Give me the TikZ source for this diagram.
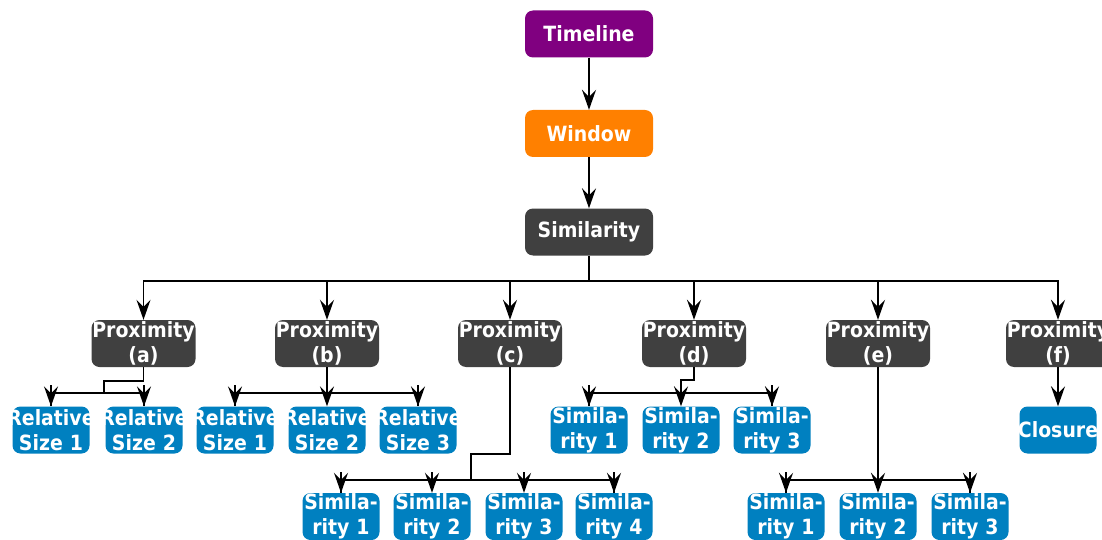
\documentclass[tikz,border=0pt]{standalone}
\usepackage{fontspec}
\setmainfont{DejaVu Sans Condensed}
\usetikzlibrary{arrows.meta}
\definecolor{tlpurple}{RGB}{128,0,128}
\definecolor{winorange}{RGB}{255,128,0}
\definecolor{darkbox}{RGB}{64,64,64}
\definecolor{leafblue}{RGB}{0,128,192}
% two centred lines that may run past the box edges
\newcommand{\twolines}[2]{\clap{#1}\\\clap{#2}}
\tikzset{
  box/.style={draw=none, rounded corners=8pt, text=white, inner sep=0pt,
    minimum height=47pt, text width=0pt, align=center,
    font=\fontsize{21}{25}\selectfont\bfseries},
  topbox/.style={box, minimum width=128pt},
  midbox/.style={box, fill=darkbox, minimum width=104pt},
  leaf/.style={box, fill=leafblue, minimum width=77pt},
  link/.style={draw=black, line width=1.8pt},
  arr/.style={link, -{Stealth[length=20pt,width=14pt,inset=7pt]}}
}
\begin{document}
\begin{tikzpicture}[x=1pt,y=-1pt]
\useasboundingbox (0,0) rectangle (1102,540);
\fill[white] (0,0) rectangle (1102,540);

% spine
\node[topbox, fill=tlpurple] (timeline) at (589,34) {\clap{Timeline}};
\node[topbox, fill=winorange] (window) at (589,133.5) {\clap{Window}};
\node[topbox, fill=darkbox] (sim) at (589,232) {\clap{Similarity}};

% proximity row
\node[midbox] (pa) at (143.5,343.5) {\twolines{Proximity}{(a)}};
\node[midbox] (pb) at (327,343.5) {\twolines{Proximity}{(b)}};
\node[midbox] (pc) at (510,343.5) {\twolines{Proximity}{(c)}};
\node[midbox] (pd) at (694,343.5) {\twolines{Proximity}{(d)}};
\node[midbox] (pe) at (878,343.5) {\twolines{Proximity}{(e)}};
\node[midbox] (pf) at (1058,343.5) {\twolines{Proximity}{(f)}};

% second row
\node[leaf] (ra1) at (51,430) {\twolines{Relative}{Size 1}};
\node[leaf] (ra2) at (144,430) {\twolines{Relative}{Size 2}};
\node[leaf] (rb1) at (235,430) {\twolines{Relative}{Size 1}};
\node[leaf] (rb2) at (327,430) {\twolines{Relative}{Size 2}};
\node[leaf] (rb3) at (418,430) {\twolines{Relative}{Size 3}};
\node[leaf] (sd1) at (589,430) {\twolines{Simila-}{rity 1}};
\node[leaf] (sd2) at (681,430) {\twolines{Simila-}{rity 2}};
\node[leaf] (sd3) at (772,430) {\twolines{Simila-}{rity 3}};
\node[leaf] (closure) at (1058,430) {\clap{Closure}};

% third row
\node[leaf] (sc1) at (341,516.5) {\twolines{Simila-}{rity 1}};
\node[leaf] (sc2) at (432,516.5) {\twolines{Simila-}{rity 2}};
\node[leaf] (sc3) at (524,516.5) {\twolines{Simila-}{rity 3}};
\node[leaf] (sc4) at (614,516.5) {\twolines{Simila-}{rity 4}};
\node[leaf] (se1) at (786,516.5) {\twolines{Simila-}{rity 1}};
\node[leaf] (se2) at (878,516.5) {\twolines{Simila-}{rity 2}};
\node[leaf] (se3) at (970,516.5) {\twolines{Simila-}{rity 3}};

% bus and bend points
\coordinate (bus) at (589,281);
\coordinate (ka) at (104,381);
\coordinate (ba) at (104,393);
\coordinate (bb) at (327,393);
\coordinate (kc) at (471,454);
\coordinate (bc) at (471,480);
\coordinate (kd) at (681,380);
\coordinate (bd) at (681,393);
\coordinate (be) at (878,480);

% connectors: the spine
\draw[arr] (timeline) -- (window);
\draw[arr] (window) -- (sim);
\draw[link] (sim.south) -- (bus);
\foreach \p in {pa,pb,pc,pd,pe,pf}
  \draw[arr] (bus) -| (\p.north);

% short drops: bus first, then the arrow straight down onto each box
\draw[link] (pa.south) |- (ka) -- (ba);
\draw[link] (ba) -| (ra1.north);
\draw[link] (ba) -| (ra2.north);
\foreach \c in {ra1,ra2}
  \draw[arr] (ba -| \c.north) ++(0,-8) -- (\c.north);

\draw[link] (pb.south) -- (bb);
\foreach \c in {rb1,rb3}
  \draw[link] (bb) -| (\c.north);
\foreach \c in {rb1,rb2,rb3}
  \draw[arr] (bb -| \c.north) ++(0,-8) -- (\c.north);

\draw[link] (pc.south) |- (kc) -- (bc);
\foreach \c in {sc1,sc4}
  \draw[link] (bc) -| (\c.north);
\foreach \c in {sc1,sc2,sc3,sc4}
  \draw[arr] (bc -| \c.north) ++(0,-8) -- (\c.north);

\draw[link] (pd.south) |- (kd) -- (bd);
\foreach \c in {sd1,sd3}
  \draw[link] (bd) -| (\c.north);
\foreach \c in {sd1,sd2,sd3}
  \draw[arr] (bd -| \c.north) ++(0,-8) -- (\c.north);

\draw[link] (pe.south) -- (be);
\foreach \c in {se1,se3}
  \draw[link] (be) -| (\c.north);
\foreach \c in {se1,se2,se3}
  \draw[arr] (be -| \c.north) ++(0,-8) -- (\c.north);

\draw[arr] (pf) -- (closure);
\end{tikzpicture}
\end{document}
